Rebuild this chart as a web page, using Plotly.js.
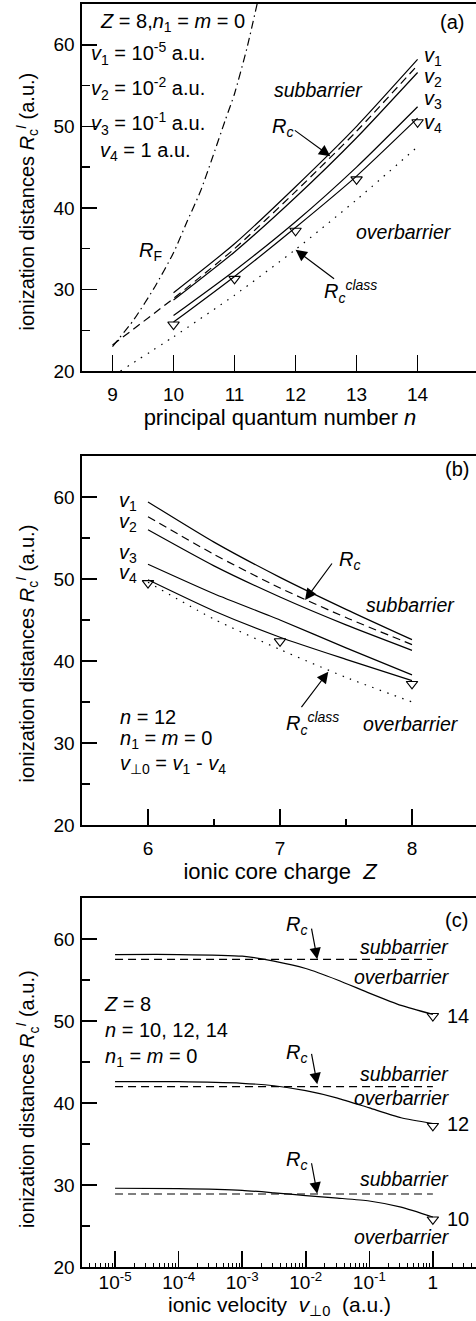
<!DOCTYPE html>
<html><head><meta charset="utf-8">
<script src="https://cdn.plot.ly/plotly-3.0.1.min.js"></script>
<style>
html,body{margin:0;padding:0;overflow:hidden;background:#fff;width:476px;height:1321px;}
#chart{width:490px;height:1321px;}
</style></head>
<body><div id="chart"></div>
<script>
// ---------- Panel (a): R vs principal quantum number n (Z = 8) ----------
const a_n = [10, 11, 12, 13, 14];
const a_v1 = [29.6, 35.6, 42.6, 50.0, 58.2];
const a_v2 = [28.7, 34.6, 41.3, 48.6, 56.6];
const a_v3 = [26.8, 32.3, 38.3, 45.0, 52.4];
const a_v4 = [26.0, 31.6, 37.6, 43.9, 51.0];
const a_v4mark = [25.7, 31.3, 37.2, 43.5, 50.5];
const a_RcN = [9, 10, 11, 12, 13, 14];
const a_Rc = [23.2, 28.9, 35.0, 42.0, 49.4, 57.5];
const a_classN = [9.13, 10, 11, 12, 13, 14];
const a_class = [20.0, 24.2, 29.3, 34.9, 41.0, 47.5];
const a_RFn = [9.0, 9.35, 9.7, 10.0, 10.22, 10.44, 10.63, 10.85, 11.0, 11.2, 11.4];
const a_RF = [23.0, 26.3, 30.4, 34.5, 38.3, 42.0, 46.0, 50.8, 54.0, 59.5, 66.0];

// ---------- Panel (b): R vs ionic core charge Z (n = 12) ----------
const b_Z = [6, 6.5, 7, 7.5, 8];
const b_v1 = [59.4, 54.5, 50.2, 46.3, 42.6];
const b_Rc = [57.6, 53.0, 48.9, 45.3, 42.0];
const b_v2 = [56.0, 51.6, 47.8, 44.4, 41.3];
const b_v3 = [51.8, 48.2, 45.0, 41.6, 38.3];
const b_v4 = [49.9, 46.1, 42.9, 40.2, 37.6];
const b_class = [49.6, 45.1, 41.4, 38.0, 35.0];
const b_markZ = [6, 7, 8];
const b_mark = [49.5, 42.4, 37.2];

// ---------- Panel (c): R vs ionic velocity (Z = 8) ----------
const c_v = [1e-5, 1e-4, 1e-3, 0.00316, 0.01, 0.0316, 0.1, 0.316, 1];
const c_n14 = [58.1, 58.1, 57.9, 57.3, 56.4, 55.0, 53.4, 51.9, 50.8];
const c_n12 = [42.6, 42.6, 42.4, 42.1, 41.5, 40.6, 39.4, 38.2, 37.5];
const c_n10 = [29.6, 29.55, 29.35, 29.05, 28.7, 28.4, 28.05, 27.3, 26.1];
const c_RcV = [1e-5, 1];
const c_Rc14 = [57.5, 57.5];
const c_Rc12 = [42.0, 42.0];
const c_Rc10 = [28.9, 28.9];
const c_markV = [1, 1, 1];
const c_mark = [50.6, 37.2, 25.8];
const c_tickVals = [1e-5, 1e-4, 1e-3, 1e-2, 1e-1, 1];
const c_tickText = ['10<sup>-5</sup>', '10<sup>-4</sup>', '10<sup>-3</sup>', '10<sup>-2</sup>', '10<sup>-1</sup>', '1'];

// ---------- styling ----------
const FONT = '"Liberation Sans", Arial, Helvetica, sans-serif';
const TF = 19, TT = 22, YT = 20, AF = 20, IF = 19.5;
const K = '#000';
const LW = 1.2;
const DASH = '8px,5px';
const DOT = '1.5px,6.5px';
const DASHDOT = '8px,4px,1.5px,4px';

function ln(x, y, xa, ya, dash, shape) {
  return {x, y, xaxis: xa, yaxis: ya, type: 'scatter', mode: 'lines',
    line: {color: K, width: LW, dash: dash || 'solid', shape: shape || 'spline', smoothing: 0.6},
    hoverinfo: 'skip', showlegend: false, cliponaxis: true};
}
function mk(x, y, xa, ya) {
  return {x, y, xaxis: xa, yaxis: ya, type: 'scatter', mode: 'markers',
    marker: {symbol: 'triangle-down-open', size: 10, color: K, line: {width: 1.1, color: K}},
    hoverinfo: 'skip', showlegend: false, cliponaxis: false};
}

const data = [
  ln(a_RFn, a_RF, 'x', 'y', DASHDOT),
  ln(a_RcN, a_Rc, 'x', 'y', DASH),
  ln(a_classN, a_class, 'x', 'y', DOT),
  ln(a_n, a_v1, 'x', 'y'),
  ln(a_n, a_v2, 'x', 'y'),
  ln(a_n, a_v3, 'x', 'y'),
  ln(a_n, a_v4, 'x', 'y'),
  mk(a_n, a_v4mark, 'x', 'y'),

  ln(b_Z, b_v1, 'x2', 'y2'),
  ln(b_Z, b_Rc, 'x2', 'y2', DASH),
  ln(b_Z, b_v2, 'x2', 'y2'),
  ln(b_Z, b_v3, 'x2', 'y2'),
  ln(b_Z, b_v4, 'x2', 'y2'),
  ln(b_Z, b_class, 'x2', 'y2', DOT),
  mk(b_markZ, b_mark, 'x2', 'y2'),

  ln(c_v, c_n14, 'x3', 'y3'),
  ln(c_v, c_n12, 'x3', 'y3'),
  ln(c_v, c_n10, 'x3', 'y3'),
  ln(c_RcV, c_Rc14, 'x3', 'y3', DASH, 'linear'),
  ln(c_RcV, c_Rc12, 'x3', 'y3', DASH, 'linear'),
  ln(c_RcV, c_Rc10, 'x3', 'y3', DASH, 'linear'),
  mk(c_markV, c_mark, 'x3', 'y3')
];

const YTITLE = 'ionization distances <i>R</i><sub>c</sub><sup><i>I</i></sup> (a.u.)';

function yax(domain, anchor) {
  return {domain, anchor, range: [20, 65], tickmode: 'linear', tick0: 0, dtick: 10,
    ticks: 'inside', ticklen: 15, tickwidth: 1.6, tickcolor: K,
    minor: {dtick: 5, ticks: 'inside', ticklen: 8, tickwidth: 1.4, tickcolor: K},
    showline: true, mirror: true, linewidth: 1.6, linecolor: K,
    showgrid: false, zeroline: false, ticklabelstandoff: 2,
    tickfont: {family: FONT, size: TF, color: K},
    title: {text: ''}, fixedrange: true};
}
function xax(anchor, extra) {
  return Object.assign({anchor, domain: [0, 1],
    ticks: 'inside', ticklen: 16, tickwidth: 1.6, tickcolor: K,
    showline: true, mirror: true, linewidth: 1.6, linecolor: K,
    showgrid: false, zeroline: false, ticklabelstandoff: 6,
    tickfont: {family: FONT, size: TF, color: K}, fixedrange: true}, extra);
}

const layout = {
  width: 490, height: 1321,
  margin: {l: 82, r: 12, t: 4, b: 54},
  paper_bgcolor: '#fff', plot_bgcolor: '#fff',
  font: {family: FONT, size: AF, color: K},
  showlegend: false,
  xaxis: xax('y', {range: [8.5, 14.99], tickmode: 'linear', tick0: 0, dtick: 1,
    title: {text: 'principal quantum number <i>n</i>', font: {family: FONT, size: TT, color: K}, standoff: 3}}),
  yaxis: yax([0.7094, 1], 'x'),
  xaxis2: xax('y2', {range: [5.5, 8.5], tickmode: 'linear', tick0: 0, dtick: 1,
    minor: {dtick: 0.5, ticks: 'inside', ticklen: 6, tickwidth: 1.4, tickcolor: K},
    title: {text: 'ionic core charge  <i>Z</i>', font: {family: FONT, size: TT, color: K}, standoff: 3}}),
  yaxis2: yax([0.35, 0.6421], 'x2'),
  xaxis3: xax('y3', {type: 'log', range: [-5.52, 0.71], tickmode: 'array',
    tickvals: c_tickVals, ticktext: c_tickText, ticklabelstandoff: -2,
    minor: {tickmode: 'linear', dtick: 'D1', ticks: 'inside', ticklen: 4, tickwidth: 1, tickcolor: K},
    title: {text: ''}}),
  yaxis3: yax([0, 0.2922], 'x3'),
  annotations: []
};

function T(xr, yr, x, y, text, opt) {
  return Object.assign({xref: xr, yref: yr, x, y, text, showarrow: false,
    font: {family: FONT, size: AF, color: K}, xanchor: 'center', yanchor: 'middle'}, opt || {});
}
function I(xr, yr, x, y, word) {
  return T(xr, yr, x, y, '<i>' + word + '</i>', {font: {family: FONT, size: IF, color: K}});
}
function A(xr, yr, x, y, ax, ay) {
  return {xref: xr, yref: yr, x, y, ax, ay, axref: 'pixel', ayref: 'pixel', text: '',
    showarrow: true, arrowhead: 2, arrowsize: 1.9, arrowwidth: 1.2, arrowcolor: K};
}
const L = {xanchor: 'left'};
const ann = layout.annotations;
// y-axis titles
[['y domain', 0.462], ['y2 domain', 0.465], ['y3 domain', 0.455]].forEach(function (p) {
  ann.push({xref: 'paper', yref: p[0], x: -0.1389, y: p[1], text: YTITLE, textangle: -90,
    showarrow: false, font: {family: FONT, size: YT, color: K}, xanchor: 'center', yanchor: 'middle'});
});
// x-axis title of panel (c)
ann.push({xref: 'paper', yref: 'paper', x: 0.4975, y: -0.0420, text: 'ionic velocity  <i>v</i><sub>⊥0</sub>  (a.u.)',
  showarrow: false, font: {family: FONT, size: 21, color: K}, xanchor: 'center', yanchor: 'bottom', borderpad: 0});
// panel (a)
ann.push(T('x', 'y', 8.754, 62.75, '<i>Z</i> = 8,<i>n</i><sub>1</sub> = <i>m</i> = 0', L));
ann.push(T('x', 'y', 8.607, 58.9, '<i>v</i><sub>1</sub> = 10<sup>-5</sup> a.u.', L));
ann.push(T('x', 'y', 8.607, 54.6, '<i>v</i><sub>2</sub> = 10<sup>-2</sup> a.u.', L));
ann.push(T('x', 'y', 8.607, 50.3, '<i>v</i><sub>3</sub> = 10<sup>-1</sup> a.u.', L));
ann.push(T('x', 'y', 8.754, 46.9, '<i>v</i><sub>4</sub> = 1 a.u.', L));
ann.push(T('x', 'y', 14.57, 62.75, '(a)'));
ann.push(I('x', 'y', 12.38, 54.5, 'subbarrier'));
ann.push(T('x', 'y', 11.78, 49.9, '<i>R</i><sub><i>c</i></sub>'));
ann.push(A('x', 'y', 12.57, 46.33, -37, -27));
ann.push(T('x', 'y', 14.26, 58.6, '<i>v</i><sub>1</sub>'));
ann.push(T('x', 'y', 14.26, 56.0, '<i>v</i><sub>2</sub>'));
ann.push(T('x', 'y', 14.26, 53.3, '<i>v</i><sub>3</sub>'));
ann.push(T('x', 'y', 14.26, 50.4, '<i>v</i><sub>4</sub>'));
ann.push(I('x', 'y', 13.78, 37.0, 'overbarrier'));
ann.push(T('x', 'y', 12.9, 29.7, '<i>R</i><sub><i>c</i></sub><sup><i>class</i></sup>'));
ann.push(A('x', 'y', 12.0, 34.86, 40, 30));
ann.push(T('x', 'y', 9.62, 34.6, '<i>R</i><sub>F</sub>'));
// panel (b)
ann.push(T('x2', 'y2', 5.85, 59.5, '<i>v</i><sub>1</sub>'));
ann.push(T('x2', 'y2', 5.85, 56.95, '<i>v</i><sub>2</sub>'));
ann.push(T('x2', 'y2', 5.85, 53.05, '<i>v</i><sub>3</sub>'));
ann.push(T('x2', 'y2', 5.85, 50.7, '<i>v</i><sub>4</sub>'));
ann.push(T('x2', 'y2', 8.34, 63.4, '(b)'));
ann.push(T('x2', 'y2', 7.53, 52.2, '<i>R</i><sub><i>c</i></sub>'));
ann.push(A('x2', 'y2', 7.19, 47.44, 28, -38));
ann.push(I('x2', 'y2', 7.985, 46.8, 'subbarrier'));
ann.push(I('x2', 'y2', 7.99, 32.26, 'overbarrier'));
ann.push(T('x2', 'y2', 7.246, 32.4, '<i>R</i><sub><i>c</i></sub><sup><i>class</i></sup>'));
ann.push(A('x2', 'y2', 7.366, 38.7, -28, 37));
ann.push(T('x2', 'y2', 5.773, 33.2, '<i>n</i> = 12', L));
ann.push(T('x2', 'y2', 5.773, 30.4, '<i>n</i><sub>1</sub> = <i>m</i> = 0', L));
ann.push(T('x2', 'y2', 5.773, 27.4, '<i>v</i><sub>⊥0</sub> = <i>v</i><sub>1</sub> - <i>v</i><sub>4</sub>', L));
// panel (c)
ann.push(T('x3', 'y3', 0.377, 62.36, '(c)'));
ann.push(T('x3', 'y3', -5.209, 48.75,
  '<i>Z</i> = 8<br><i>n</i> = 10, 12, 14<br><i>n</i><sub>1</sub> = <i>m</i> = 0', {xanchor: 'left', align: 'left'}));
[[61.7, 57.54], [46.06, 42.27], [32.97, 28.93]].forEach(function (p) {
  ann.push(T('x3', 'y3', -2.138, p[0], '<i>R</i><sub><i>c</i></sub>'));
  ann.push(A('x3', 'y3', -1.819, p[1], -6, -32));
});
[59.03, 43.48, 30.67].forEach(function (y) { ann.push(I('x3', 'y3', -0.44, y, 'subbarrier')); });
[55.33, 40.55, 23.67].forEach(function (y) { ann.push(I('x3', 'y3', -0.48, y, 'overbarrier')); });
ann.push(T('x3', 'y3', 0.393, 50.55, '14'));
ann.push(T('x3', 'y3', 0.393, 37.42, '12'));
ann.push(T('x3', 'y3', 0.393, 25.9, '10'));

Plotly.newPlot('chart', data, layout, {staticPlot: true, displayModeBar: false});
</script>
</body></html>
